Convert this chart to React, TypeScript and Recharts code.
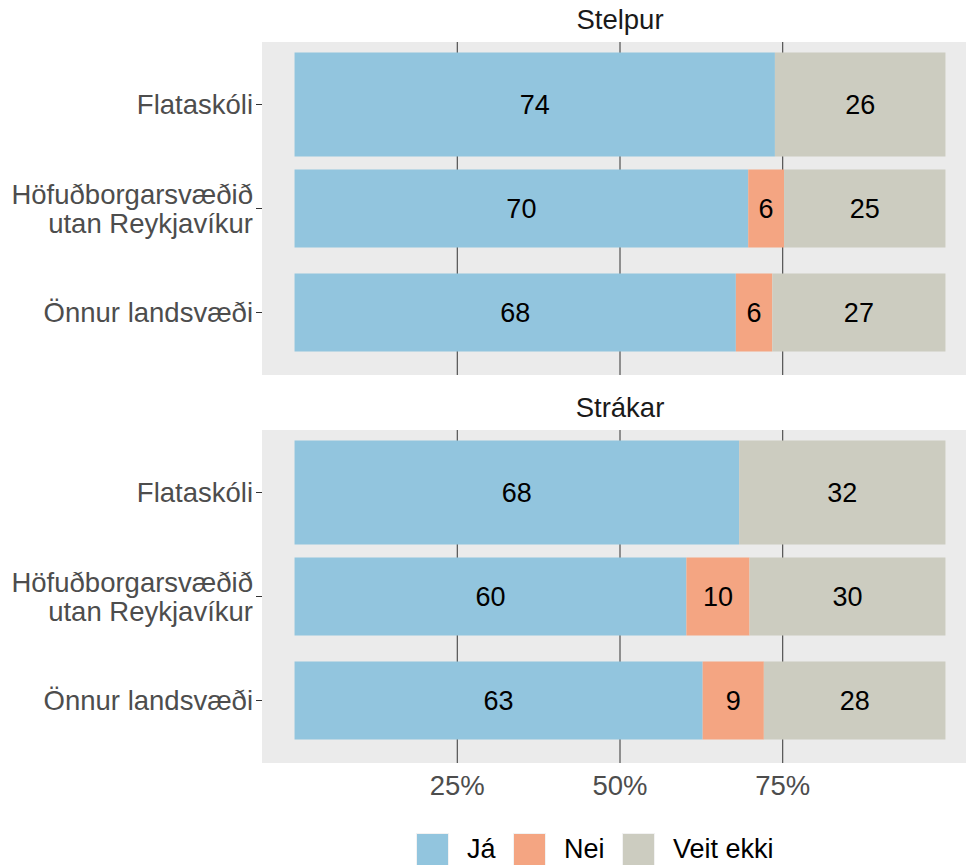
import React from "react";
import { BarChart, Bar, XAxis, YAxis, CartesianGrid, LabelList } from "recharts";

const FONT = '"Liberation Sans", Arial, Helvetica, sans-serif';

// ---- data ----
const regions = ["Flataskóli", "Höfuðborgarsvæðið\nutan Reykjavíkur", "Önnur landsvæði"];
const stelpurJa = [73.8, 69.7, 67.8];
const stelpurNei = [0, 5.5, 5.6];
const stelpurVeit = [26.2, 24.8, 26.6];
const strakarJa = [68.3, 60.2, 62.7];
const strakarNei = [0, 9.7, 9.4];
const strakarVeit = [31.7, 30.1, 27.9];
const xTicks = [25, 50, 75];
const panelTitles = ["Stelpur", "Strákar"];
const series = [
  { key: "Ja", name: "Já", color: "#92C5DE" },
  { key: "Nei", name: "Nei", color: "#F4A582" },
  { key: "Veit", name: "Veit ekki", color: "#CCCCC0" },
];

const makeRows = (ja: number[], nei: number[], veit: number[]) =>
  regions.map((r, i) => ({ region: r, Ja: ja[i], Nei: nei[i], Veit: veit[i] }));

const panels = [
  { title: panelTitles[0], rows: makeRows(stelpurJa, stelpurNei, stelpurVeit) },
  { title: panelTitles[1], rows: makeRows(strakarJa, strakarNei, strakarVeit) },
];

const YTick = (props: any) => {
  const { x, y, payload } = props;
  const lines = String(payload.value).split("\n");
  const lh = 29;
  const start = -((lines.length - 1) * lh) / 2;
  return (
    <text x={x - 1} y={y} textAnchor="end" fill="#4D4D4D" fontSize={27.5} fontFamily={FONT}>
      {lines.map((l, i) => (
        <tspan key={i} x={x - 1} y={y + start + i * lh} dy="0.36em">
          {l}
        </tspan>
      ))}
    </text>
  );
};

const BarShape = (props: any) => {
  const { x, y, width, height, fill, payload } = props;
  if (!width || width <= 0) return <g />;
  const k = payload && payload.region === regions[0] ? 1 : 0.75;
  const h = height * k;
  return <rect x={x} y={y + (height - h) / 2} width={width} height={h} fill={fill} />;
};

const fmt = (v: any) => (v ? String(Math.round(Number(v))) : "");

function Panel({ rows, showX }: { rows: any[]; showX: boolean }) {
  return (
    <BarChart
      width={978}
      height={showX ? 393 : 333}
      data={rows}
      layout="vertical"
      margin={{ top: 0, right: 0, bottom: 0, left: 0 }}
      barCategoryGap={0}
    >
      <CartesianGrid
        horizontal={false}
        vertical={true}
        syncWithTicks={true}
        stroke="#333333"
        strokeWidth={1}
        fill="#EBEBEB"
      />
      <XAxis
        type="number"
        domain={[-5, 105]}
        ticks={xTicks}
        allowDataOverflow
        hide={!showX}
        height={60}
        tickLine={false}
        axisLine={false}
        tickMargin={6}
        tickFormatter={(v: number) => `${v}%`}
        tick={{ fill: "#4D4D4D", fontSize: 27.5, fontFamily: FONT }}
      />
      <YAxis
        type="category"
        dataKey="region"
        width={262}
        padding={{ top: 10.5, bottom: 10.5 }}
        tick={<YTick />}
        tickLine={{ stroke: "#333333" }}
        tickSize={6}
        axisLine={false}
        interval={0}
      />
      {series.map((s) => (
        <Bar key={s.key} dataKey={s.key} name={s.name} stackId="a" fill={s.color} isAnimationActive={false} shape={BarShape}>
          <LabelList dataKey={s.key} position="center" formatter={fmt} fill="#000000" fontSize={27} fontFamily={FONT} />
        </Bar>
      ))}
    </BarChart>
  );
}

export default function App() {
  return (
    <div
      style={{
        position: "absolute",
        left: 0,
        top: 0,
        width: 966,
        height: 865,
        overflow: "hidden",
        background: "#FFFFFF",
        fontFamily: FONT,
      }}
    >
      <div style={{ position: "absolute", left: 0, top: 42 }}>
        <Panel rows={panels[0].rows} showX={false} />
      </div>
      <div style={{ position: "absolute", left: 0, top: 430 }}>
        <Panel rows={panels[1].rows} showX={true} />
      </div>
      <svg width={966} height={865} style={{ position: "absolute", left: 0, top: 0, pointerEvents: "none" }}>
        {panels.map((p, i) => (
          <text key={p.title} x={620} y={29 + i * 388} textAnchor="middle" fontSize={27.5} fill="#1A1A1A" fontFamily={FONT}>
            {p.title}
          </text>
        ))}
      </svg>
      <div style={{ position: "absolute", left: 416, top: 833, display: "flex", alignItems: "center" }}>
        {series.map((s) => (
          <div key={s.key} style={{ display: "flex", alignItems: "center", marginRight: 17.5 }}>
            <div
              style={{
                width: 33,
                height: 33,
                boxSizing: "border-box",
                background: s.color,
                border: "1px solid #F2F2F2",
                marginRight: 18,
              }}
            />
            <span style={{ fontSize: 27, lineHeight: "33px", color: "#000000", whiteSpace: "nowrap" }}>{s.name}</span>
          </div>
        ))}
      </div>
    </div>
  );
}
